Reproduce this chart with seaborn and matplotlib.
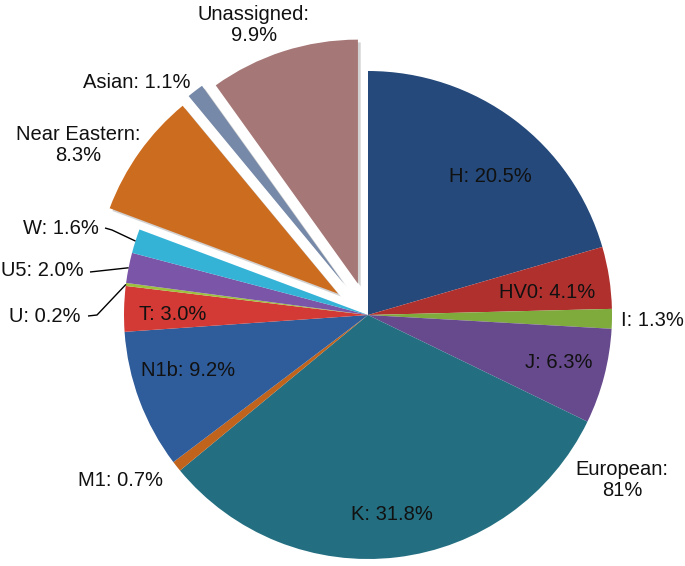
import numpy as np
import pandas as pd
import matplotlib
matplotlib.use("Agg")
import matplotlib.pyplot as plt
import seaborn as sns
from matplotlib import patheffects as pe

# ---------------- data ----------------
categories = ["H", "HV0", "I", "J", "K", "M1", "N1b", "T", "U", "U5", "W",
              "Near Eastern", "Asian", "Unassigned"]
values = [20.5, 4.1, 1.3, 6.3, 31.8, 0.7, 9.2, 3.0, 0.2, 2.0, 1.6, 8.3, 1.1, 9.9]
label_texts = ["H: 20.5%", "HV0: 4.1%", "I: 1.3%", "J: 6.3%", "K: 31.8%",
               "M1: 0.7%", "N1b: 9.2%", "T: 3.0%", "U: 0.2%", "U5: 2.0%",
               "W: 1.6%", "Near Eastern:\n8.3%", "Asian: 1.1%", "Unassigned:\n9.9%"]
group_label = "European:\n81%"

# ---------------- style ----------------
colors = ["#24497A", "#B0302E", "#7FAA3C", "#674A8E", "#236F81", "#C0631C",
          "#2F5C9A", "#D33A35", "#9DC03D", "#7B55A8", "#35B3D7",
          "#CC6C1F", "#7689A8", "#A57776"]
explode = [0] * 11 + [0.15, 0.16, 0.135]

sns.set_theme(style="white")
plt.rcParams['font.family'] = ['Liberation Sans', 'DejaVu Sans']
FS = 14.5

W_PX, H_PX = 685, 566
CX, CY, R = 368, 315, 244

fig = plt.figure(figsize=(W_PX / 100, H_PX / 100), dpi=100)
ax = fig.add_axes([0, 0, 1, 1])

wedges, _ = ax.pie(values, colors=colors, startangle=90, counterclock=False,
                   explode=explode, radius=1.0,
                   wedgeprops=dict(linewidth=0))

for w, e in zip(wedges, explode):
    if e > 0:
        w.set_path_effects([pe.SimplePatchShadow(offset=(2, -2), shadow_rgbFace='#808080', alpha=0.35),
                            pe.Normal()])

ax.set_xlim(-CX / R, (W_PX - CX) / R)
ax.set_ylim(-(H_PX - CY) / R, CY / R)
ax.set_aspect('auto')
ax.axis('off')


def P(x, y):
    return (x - CX) / R, (CY - y) / R


def wedge_edge(i):
    w = wedges[i]
    a = np.deg2rad((w.theta1 + w.theta2) / 2)
    return np.cos(a), np.sin(a)


# label layout (pixel positions in the picture)
layout = {
    "H": (490, 177, 'center'),
    "HV0": (547, 292, 'center'),
    "I": (652, 320, 'center'),
    "J": (559, 362, 'center'),
    "K": (392, 515, 'center'),
    "M1": (121, 481, 'center'),
    "N1b": (188, 371, 'center'),
    "T": (173, 315, 'center'),
    "U": (81, 316, 'right'),
    "U5": (84, 271, 'right'),
    "W": (99, 228, 'right'),
    "Near Eastern": (78, 145, 'center'),
    "Asian": (137, 82, 'center'),
    "Unassigned": (254, 25, 'center'),
}

for cat, txt in zip(categories, label_texts):
    x, y, ha = layout[cat]
    ax.text(*P(x, y), txt, ha=ha, va='center', fontsize=FS, color='#111111',
            linespacing=1.15)

ax.text(*P(622, 480), group_label, ha='center', va='center', fontsize=FS,
        color='#111111', linespacing=1.15)

# leader lines
leaders = {
    "W": [(105, 228), (112, 230)],
    "U5": [(90, 272)],
    "U": [(88, 316), (97, 315)],
}
for cat, pts in leaders.items():
    i = categories.index(cat)
    xs = [P(*p)[0] for p in pts]
    ys = [P(*p)[1] for p in pts]
    ex, ey = wedge_edge(i)
    xs.append(ex)
    ys.append(ey)
    ax.plot(xs, ys, color='black', lw=1.0, solid_capstyle='butt')

fig.savefig("out.png", dpi=100)
